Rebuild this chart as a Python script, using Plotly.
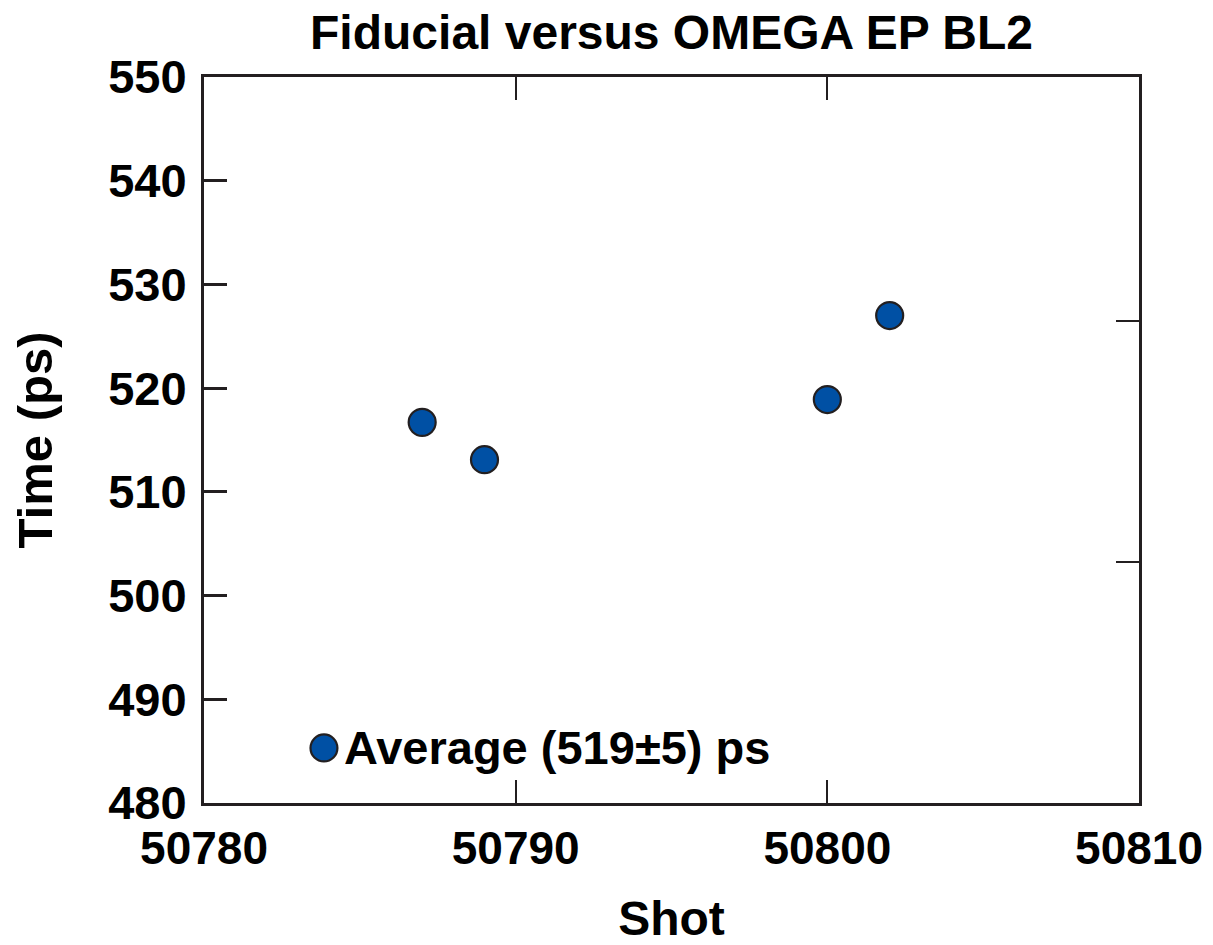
import plotly.graph_objects as go

# Fiducial timing measured on each OMEGA EP shot
shots = [50787, 50789, 50800, 50802]
times_ps = [516.7, 513.1, 518.9, 527.0]
legend_label = "Average (519±5) ps"

x_ticks = [50780, 50790, 50800, 50810]
y_ticks = [480, 490, 500, 510, 520, 530, 540, 550]
right_ticks = [526.5, 503.2]

ink = "#231f20"
blue = "#0050a4"
font_family = "Liberation Sans, Arial, Helvetica, sans-serif"
bold = dict(family=font_family, weight="bold", color="black")

fig = go.Figure()
fig.add_trace(go.Scatter(
    x=shots, y=times_ps, mode="markers", name=legend_label,
    showlegend=False,
    marker=dict(size=27, color=blue, line=dict(color=ink, width=2.2)),
))
# empty trace so the right-hand tick axis is laid out
fig.add_trace(go.Scatter(x=[], y=[], yaxis="y2", showlegend=False,
                         hoverinfo="skip"))

# key for the average, drawn inside the lower-left of the frame
key_x, key_y = 0.1283, 0.0758
key_rx, key_ry = 0.0144, 0.0186
fig.add_shape(type="circle", xref="paper", yref="paper",
              x0=key_x - key_rx, x1=key_x + key_rx,
              y0=key_y - key_ry, y1=key_y + key_ry,
              fillcolor=blue, line=dict(color=ink, width=2.2))
fig.add_annotation(text=legend_label, xref="paper", yref="paper",
                   x=0.1475, y=key_y, xanchor="left", yanchor="middle",
                   showarrow=False, font=dict(size=47, **bold))

fig.update_layout(
    width=1213, height=945,
    margin=dict(l=204, r=74, t=77, b=142, autoexpand=False),
    paper_bgcolor="white", plot_bgcolor="white",
    font=bold,
    title=dict(text="Fiducial versus OMEGA EP BL2", x=0.5, xref="paper",
               xanchor="center", y=0.966, yanchor="middle",
               font=dict(size=48, **bold)),
    xaxis=dict(range=[50780, 50810], tickvals=x_ticks, tickformat="d",
               ticks="inside", ticklen=23, tickwidth=2, tickcolor=ink,
               showline=True, linecolor=ink, linewidth=3, mirror="ticks",
               showgrid=False, zeroline=False, automargin=False,
               tickfont=dict(size=46, **bold),
               ticklabelstandoff=3,
               title=dict(text="Shot", standoff=32,
                          font=dict(size=48, **bold))),
    yaxis=dict(range=[480, 550], tickvals=y_ticks,
               ticks="inside", ticklen=23, tickwidth=3, tickcolor=ink,
               showline=True, linecolor=ink, linewidth=3, mirror=True,
               showgrid=False, zeroline=False, automargin=False,
               tickfont=dict(size=47, **bold),
               ticklabelstandoff=5,
               title=dict(text="Time (ps)", standoff=41,
                          font=dict(size=49, **bold))),
    yaxis2=dict(range=[480, 550], overlaying="y", side="right",
                tickvals=right_ticks, showticklabels=False,
                ticks="inside", ticklen=23, tickwidth=2, tickcolor=ink,
                showline=False, showgrid=False, zeroline=False,
                automargin=False),
)

fig.write_html("out.html")
